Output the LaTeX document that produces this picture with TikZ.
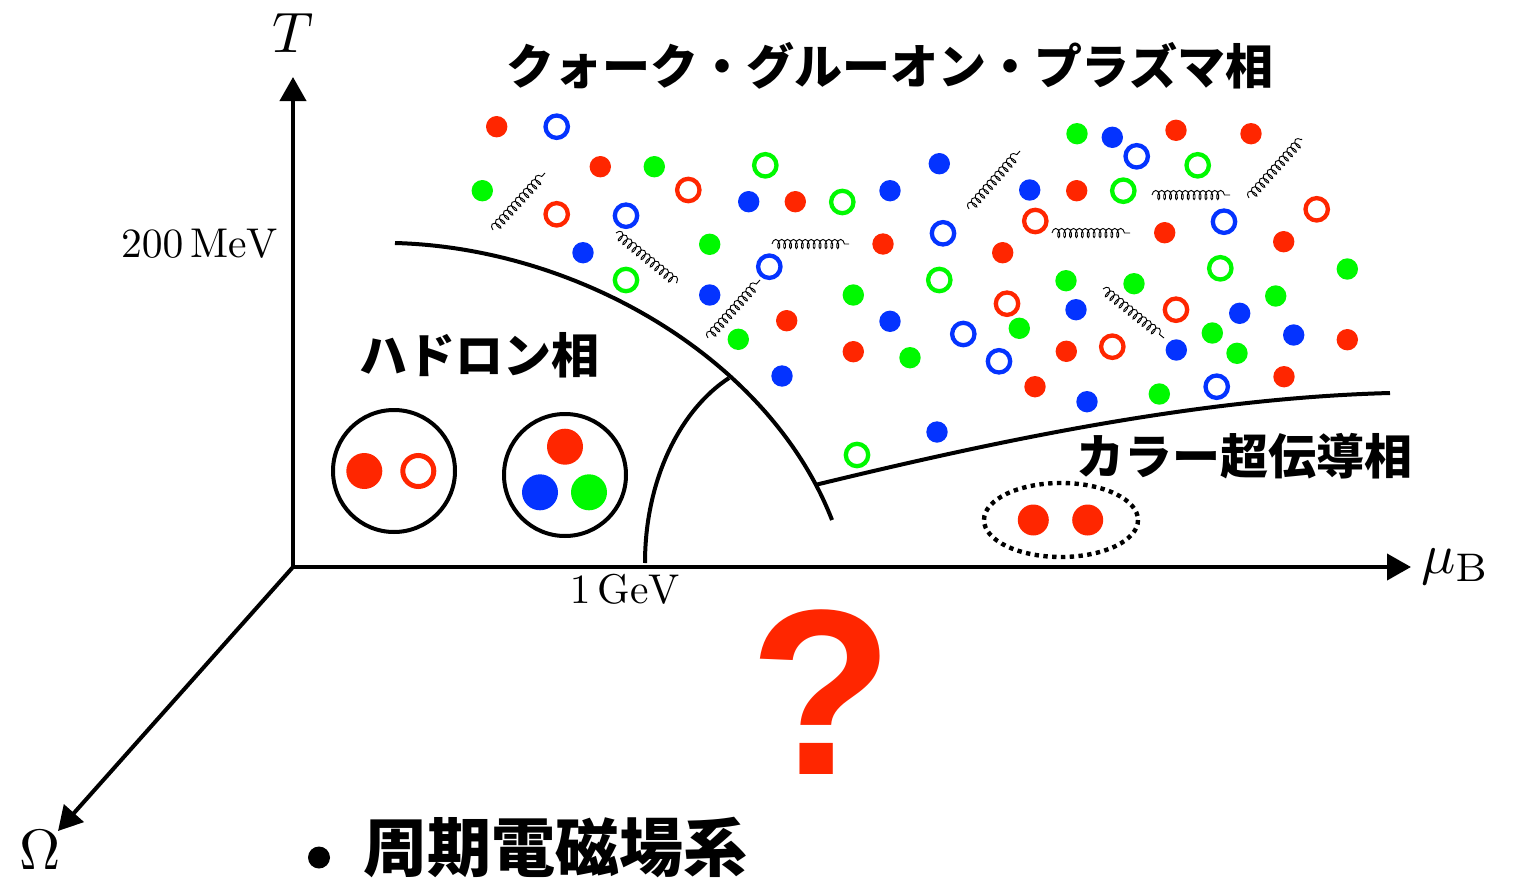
\documentclass[tikz,border=0pt]{standalone}
\usepackage{fontspec}
\newfontfamily\jpfont{Noto Sans CJK JP}
\newfontfamily\qmfont{Liberation Sans}
\usetikzlibrary{arrows.meta,decorations.pathmorphing}
\definecolor{qred}{RGB}{255,38,0}
\definecolor{qgreen}{RGB}{0,249,0}
\definecolor{qblue}{RGB}{4,51,255}
\begin{document}
\begin{tikzpicture}[x=0.5pt,y=-0.5pt,
  axis/.style={line width=2pt,-{Triangle[length=12pt,width=13pt]}},
  boundary/.style={line width=2pt},
  hadron/.style={line width=2pt},
  ringq/.style={line width=2.15pt},
  gluon/.style={decorate,decoration={coil,aspect=0.5,segment length=2.95pt,amplitude=2.3pt},line width=0.45pt},
  jplabel/.style={inner sep=0pt,font=\jpfont\bfseries\fontsize{24}{28}\selectfont},
  axislabel/.style={inner sep=0pt,scale=2.85},
  ticklabel/.style={inner sep=0pt,scale=2.08}]
\fill[white] (0,0) rectangle (1517,878);
\useasboundingbox (0,0) rectangle (1517,878);

% axes
\coordinate (O) at (293,567);
\coordinate (Ttip) at (293,77);
\coordinate (Mtip) at (1411,567);
\coordinate (Wtip) at (58,831);
\draw[axis] (O) -- (Ttip);
\draw[axis] (O) -- (Mtip);
\draw[axis] (O) -- (Wtip);
\node[axislabel] (Tlab) at (293,33) {$T$};
\node[axislabel,anchor=base west] (mulab) at (1420,573) {$\mu_{\mathrm{B}}$};
\node[axislabel] (Wlab) at (40,850) {$\Omega$};
\node[ticklabel,anchor=east] (t200) at (279,244) {$200\,\mathrm{MeV}$};
\node[ticklabel] (t1) at (625,589) {$1\,\mathrm{GeV}$};

% phase boundaries
\coordinate (hb0) at (395,243);
\coordinate (hb1) at (832,520);
\coordinate (ib0) at (645,563);
\coordinate (ib1) at (729,378);
\coordinate (cb0) at (815,485);
\coordinate (cb1) at (1390,393);
\draw[boundary] (hb0) .. controls (580,248) and (770,360) .. (hb1);
\draw[boundary] (ib0) .. controls (645,480) and (680,410) .. (ib1);
\draw[boundary] (cb0) .. controls (1000,440) and (1200,398) .. (cb1);

% phase names
\node[jplabel] (qgp) at (890,66) {クォーク・グルーオン・プラズマ相};
\node[jplabel] (had) at (479,355) {ハドロン相};
\node[jplabel] (csc) at (1244,456) {カラー超伝導相};

% quark--gluon plasma: quarks
\foreach \x/\y in {496.7/126.7,600.3/166.7,795.3/201.7,786.7/320.7,853.3/351.7,883/244,
  1176/130.3,1251/133.7,1076.7/190.7,1164.7/232.7,1002.7/252.7,1283.7/241.7,1347.3/339.7,
  1066.3/351.3,1035/386.7,1284/376.7}
  \fill[qred] (\x,\y) circle[radius=10.7];
\foreach \x/\y in {654.3/166.7,482.3/190.7,709.7/244.3,853.3/295,738.3/339.3,1077/133.7,
  1347.3/269,1066/280.7,1134/283.7,1275.7/296,1019.3/328.3,1212.3/333,910/357.7,1237/353.3,1159.3/394}
  \fill[qgreen] (\x,\y) circle[radius=10.7];
\foreach \x/\y in {748.7/201.7,583/252.7,709.7/295,1112.3/137.3,939.3/163.7,890/190.7,
  1029.7/190,1076/309.7,1239.7/313.3,890/321.3,1293.7/335,1176.3/350,1087/401.7,782/376,937/432}
  \fill[qblue] (\x,\y) circle[radius=10.7];
% antiquarks
\foreach \x/\y in {688.3/190,556.7/214.3,1316.7/209.3,1035.3/221,1007/303.7,1176/309.7,1112.3/346.7}
  \draw[qred,ringq] (\x,\y) circle[radius=11.2];
\foreach \x/\y in {765.3/165.3,842.3/202,626/280,1197.7/165.3,1123.3/190.7,1220.3/268.3,939.3/280,857/455}
  \draw[qgreen,ringq] (\x,\y) circle[radius=11.2];
\foreach \x/\y in {556.7/126.7,626/215.7,769.3/266.7,1136.7/156.3,1224/221.7,943/233.3,963.3/334,999/361.3,1216.7/386.7}
  \draw[qblue,ringq] (\x,\y) circle[radius=11.2];
% gluons
\foreach \ax/\ay/\bx/\by in {493/230/545/173,616/233/677/283,772/244/849/244,708/338/760/280,
  969/209/1020/151,1152/195/1230/195,1249/198/1302/139,1052/233/1130/233,1103/289/1164/338}
  \draw[gluon] (\ax,\ay) -- (\bx,\by);

% hadrons: meson and baryon
\draw[hadron] (394,471) circle[radius=61];
\fill[qred] (364.3,471) circle[radius=18];
\draw[qred,line width=2.5pt] (418.3,471) circle[radius=15.5];
\draw[hadron] (565,475) circle[radius=61];
\fill[qred] (565,446.7) circle[radius=18];
\fill[qblue] (540,492.3) circle[radius=18];
\fill[qgreen] (589,492.3) circle[radius=18];

% Cooper pair
\draw[line width=2.2pt,dash pattern=on 2.2pt off 2.2pt] (1061,520) ellipse[x radius=77,y radius=37];
\fill[qred] (1033.3,520) circle[radius=15.5];
\fill[qred] (1087.7,520) circle[radius=15.5];

% question mark and bullet item
\node[inner sep=0pt,text=qred,font=\qmfont\bfseries\fontsize{118}{120}\selectfont] (qm) at (822,692) {?};
\fill (319,857.5) circle[radius=11];
\node[inner sep=0pt,font=\jpfont\bfseries\fontsize{32}{36}\selectfont] (pem) at (555,847) {周期電磁場系};
\end{tikzpicture}
\end{document}
